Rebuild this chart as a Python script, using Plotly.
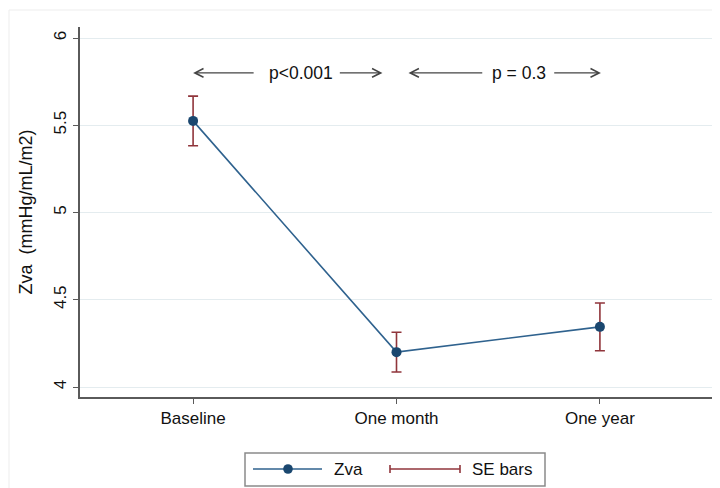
import plotly.graph_objects as go

# ---- data ----
timepoints = ["Baseline", "One month", "One year"]
zva_mean = [5.525, 4.200, 4.345]
zva_se = [0.142, 0.114, 0.137]
yticks = [4, 4.5, 5, 5.5, 6]
ytick_labels = ["4", "4.5", "5", "5.5", "6"]
p_labels = ["p<0.001", "p = 0.3"]

# ---- layout geometry (page pixels; the page body has an 8px margin) ----
OFF = 8
PAGE_W, PAGE_H = 720, 488
W, H = PAGE_W - OFF, PAGE_H - OFF
AX_L, AX_R, AX_T, AX_B = 80, 713, 27, 397     # plot area in page pixels
ML, MT = AX_L - OFF, AX_T - OFF
MR, MB = W - (AX_R - OFF), H - (AX_B - OFF)
PW, PH = AX_R - AX_L, AX_B - AX_T

def px(x):
    return (x - AX_L) / PW

def py(y):
    return (AX_B - y) / PH

NAVY = "#1a476f"
LINEC = "#2f628e"
MAROON = "#90353b"
AXC = "#5a5a5a"
FONT = "Liberation Sans, Arial, Helvetica, sans-serif"

xs = list(range(len(timepoints)))

fig = go.Figure()
fig.add_trace(go.Scatter(
    x=xs, y=zva_mean, mode="lines+markers",
    line=dict(color=LINEC, width=1.6),
    marker=dict(color=NAVY, size=10),
    error_y=dict(type="data", array=zva_se, visible=True,
                 color=MAROON, thickness=1.6, width=5),
    showlegend=False, hoverinfo="skip",
))

# ---- p-value arrows & labels ----
ARROW_Y = 5.80
arrows = [  # (head, tail) in category units
    (0.0, 0.305),
    (0.931, 0.714),
    (1.059, 1.429),
    (2.005, 1.768),
]
ann = []
for head, tail in arrows:
    ann.append(dict(x=head, y=ARROW_Y, ax=tail, ay=ARROW_Y,
                    xref="x", yref="y", axref="x", ayref="y",
                    text="", showarrow=True, arrowhead=5,
                    arrowsize=1.4, arrowwidth=1.2, arrowcolor="#444444"))
for xc, t in zip([0.53, 1.603], p_labels):
    ann.append(dict(x=xc, y=ARROW_Y, xref="x", yref="y", text=t,
                    showarrow=False, font=dict(size=17.5, color="#111111", family=FONT)))

# ---- legend (manual, Stata style) ----
ly = 469
shapes = [
    dict(type="rect", xref="paper", yref="paper",
         x0=px(245), x1=px(545), y0=py(486), y1=py(453),
         line=dict(color="#8a8a8a", width=1.5), fillcolor="white", layer="below"),
    dict(type="line", xref="paper", yref="paper",
         x0=px(253), x1=px(322), y0=py(ly), y1=py(ly),
         line=dict(color=LINEC, width=1.6)),
    dict(type="circle", xref="paper", yref="paper",
         x0=px(288 - 4.8), x1=px(288 + 4.8), y0=py(ly + 4.8), y1=py(ly - 4.8),
         line=dict(color=NAVY, width=0), fillcolor=NAVY),
    dict(type="line", xref="paper", yref="paper",
         x0=px(390), x1=px(460), y0=py(ly), y1=py(ly),
         line=dict(color=MAROON, width=1.6)),
    dict(type="line", xref="paper", yref="paper",
         x0=px(390), x1=px(390), y0=py(ly - 4), y1=py(ly + 4),
         line=dict(color=MAROON, width=1.6)),
    dict(type="line", xref="paper", yref="paper",
         x0=px(460), x1=px(460), y0=py(ly - 4), y1=py(ly + 4),
         line=dict(color=MAROON, width=1.6)),
    # faint outer frame
    dict(type="rect", xref="paper", yref="paper",
         x0=px(9), x1=px(PAGE_W + 5), y0=py(PAGE_H + 5), y1=py(10),
         line=dict(color="#ededed", width=1), layer="below"),
]
ann.append(dict(x=px(332), y=py(ly), xref="paper", yref="paper", text="Zva",
                xanchor="left", yanchor="middle", showarrow=False,
                font=dict(size=17, color="#111111", family=FONT)))
ann.append(dict(x=px(470), y=py(ly), xref="paper", yref="paper", text="SE bars",
                xanchor="left", yanchor="middle", showarrow=False,
                font=dict(size=17, color="#111111", family=FONT)))

fig.update_layout(
    width=W, height=H,
    margin=dict(l=ML, r=MR, t=MT, b=MB),
    paper_bgcolor="white", plot_bgcolor="white",
    font=dict(family=FONT, size=17, color="#111111"),
    annotations=ann, shapes=shapes,
    xaxis=dict(
        range=[-0.556, 2.556], tickvals=xs, ticktext=timepoints,
        showgrid=False, zeroline=False,
        showline=True, linecolor=AXC, linewidth=1.5,
        ticks="outside", ticklen=5, tickcolor=AXC, tickwidth=1.2,
        tickfont=dict(size=17, family=FONT, color="#111111"),
    ),
    yaxis=dict(
        range=[3.943, 6.063], tickvals=yticks, ticktext=ytick_labels,
        tickangle=-90,
        showgrid=True, gridcolor="#e4ecef", gridwidth=1, zeroline=False,
        showline=True, linecolor=AXC, linewidth=1.5,
        ticks="outside", ticklen=5, tickcolor=AXC, tickwidth=1.2,
        tickfont=dict(size=17, family=FONT, color="#111111"),
        title=dict(text="Zva  (mmHg/mL/m2)", standoff=14,
                   font=dict(size=18, family=FONT, color="#111111")),
    ),
)

fig.write_html("out.html")
